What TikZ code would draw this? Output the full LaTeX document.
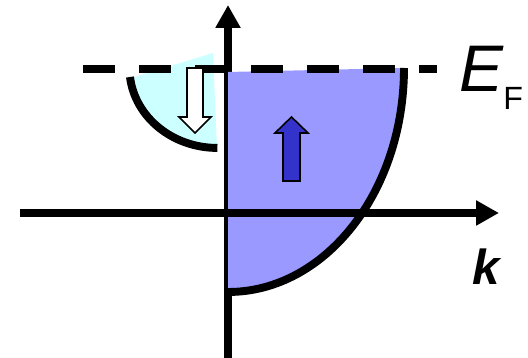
\documentclass[tikz,border=0pt]{standalone}
\usepackage{fontspec}
\setmainfont{Liberation Sans}
\usetikzlibrary{arrows.meta}

\definecolor{majority}{HTML}{9999FF}
\definecolor{minority}{HTML}{CCFFFF}
\definecolor{spinup}{HTML}{3333CC}

\begin{document}
\begin{tikzpicture}[
    x=0.02cm, y=0.02cm,
    axis/.style={line width=4.6pt, -{Triangle[length=13pt, width=13.5pt]}},
    band/.style={line width=4.5pt},
    fermi/.style={line width=4.5pt, dash pattern=on 18.2pt off 13.7pt},
    spinarrow/.style={draw=black, line width=0.9pt, line join=miter}
]
\useasboundingbox (0,0) rectangle (528,358);

% energy axis
\draw[axis] (228,0) -- (228,353);

% filled bands
\fill[minority] (134,281) -- (213,305) -- (217,210) arc[start angle=270, end angle=186.5, x radius=88, y radius=80] -- cycle;
\fill[majority] (228,286) -- (404,290) arc[start angle=0, end angle=-90, x radius=176, y radius=224] -- cycle;

% k axis
\draw[axis] (20,145) -- (499,145);

% band edges
\draw[band] (130,281) arc[start angle=186.5, end angle=270, x radius=88, y radius=80];
\draw[band] (404,290) arc[start angle=0, end angle=-90, x radius=176, y radius=224];

% Fermi level
\draw[fermi] (83,289) -- (437,289);

% spin arrows
\filldraw[spinarrow, fill=white] (187,290) -- (187,241) -- (179,241) -- (195,225) -- (211,241) -- (203,241) -- (203,290) -- cycle;
\filldraw[spinarrow, fill=spinup] (283,177) -- (283,225) -- (275,225) -- (291.5,241) -- (308,225) -- (300,225) -- (300,177) -- cycle;

% labels
\node[anchor=base west, inner sep=0] (ef) at (459,266) {\fontsize{37.5}{40}\selectfont\itshape E\raisebox{-10.2pt}{\upshape\fontsize{18.3}{20}\selectfont F}};
\node[anchor=base west, inner sep=0] (k) at (472,73) {\fontsize{28}{30}\selectfont\bfseries\itshape k};

\end{tikzpicture}
\end{document}
